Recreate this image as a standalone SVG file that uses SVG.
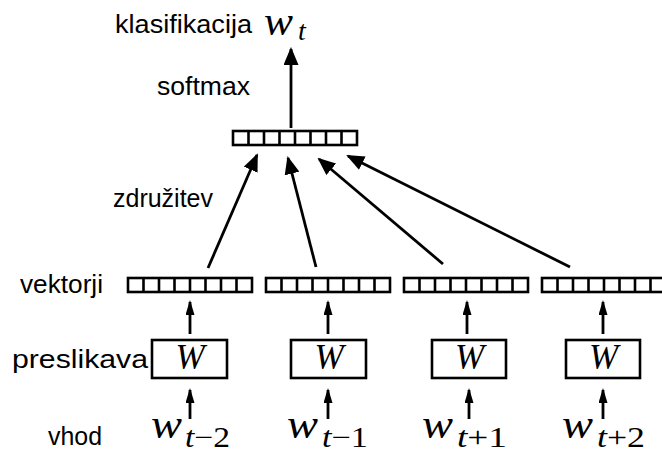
<svg xmlns="http://www.w3.org/2000/svg" xmlns:xlink="http://www.w3.org/1999/xlink" width="662" height="453" viewBox="0 0 662 453">
<style>
.lbl{font-family:"Liberation Sans",Arial,sans-serif;font-size:25px;fill:#000}
.m{font-family:"Liberation Serif","Times New Roman",serif;font-style:italic;fill:#000}
.r{font-style:normal}
.box{fill:#fff;stroke:#000;stroke-width:2.6}
.cell{fill:none;stroke:#000;stroke-width:2.6}
.ln{stroke:#000;stroke-width:2.8;fill:none}
</style>
<defs>
<marker id="big" markerUnits="userSpaceOnUse" markerWidth="18" markerHeight="15" refX="16" refY="7.5" orient="auto">
<path d="M0,0 L18,7.5 L0,15 z" fill="#000"/>
</marker>
<marker id="small" markerUnits="userSpaceOnUse" markerWidth="15" markerHeight="9" refX="13" refY="4.5" orient="auto">
<path d="M0,0 L15,4.5 L0,9 z" fill="#000"/>
</marker>
<g id="vec">
<rect x="0" y="0" width="124" height="14" class="cell"/>
<path class="cell" d="M15.5,0v14M31,0v14M46.5,0v14M62,0v14M77.5,0v14M93,0v14M108.5,0v14"/>
</g>
</defs>

<g id="labels">
<text class="lbl" x="115" y="33" textLength="137" lengthAdjust="spacingAndGlyphs">klasifikacija</text>
<text class="lbl" x="157" y="95" textLength="93" lengthAdjust="spacingAndGlyphs">softmax</text>
<text class="lbl" x="113" y="207" textLength="100" lengthAdjust="spacingAndGlyphs">združitev</text>
<text class="lbl" x="20" y="293" textLength="83" lengthAdjust="spacingAndGlyphs">vektorji</text>
<text class="lbl" x="12" y="368" textLength="136" lengthAdjust="spacingAndGlyphs">preslikava</text>
<text class="lbl" x="48" y="445" textLength="54" lengthAdjust="spacingAndGlyphs">vhod</text>
</g>

<g id="output">
<text class="m" x="264" y="35" font-size="40" textLength="29" lengthAdjust="spacingAndGlyphs">w</text>
<text class="m" x="298" y="40" font-size="28">t</text>
</g>

<g id="concat"><use xlink:href="#vec" href="#vec" x="233" y="131"/></g>

<g id="vec1"><use xlink:href="#vec" href="#vec" x="128" y="278"/></g>
<g id="vec2"><use xlink:href="#vec" href="#vec" x="266" y="278"/></g>
<g id="vec3"><use xlink:href="#vec" href="#vec" x="404" y="278"/></g>
<g id="vec4"><use xlink:href="#vec" href="#vec" x="542" y="278"/></g>

<g id="W1"><rect class="box" x="152" y="340" width="75" height="38"/><text class="m" x="190" y="369" font-size="35" text-anchor="middle">W</text></g>
<g id="W2"><rect class="box" x="291" y="340" width="75" height="38"/><text class="m" x="329" y="369" font-size="35" text-anchor="middle">W</text></g>
<g id="W3"><rect class="box" x="432" y="340" width="74" height="38"/><text class="m" x="469.5" y="369" font-size="35" text-anchor="middle">W</text></g>
<g id="W4"><rect class="box" x="566" y="340" width="74" height="38"/><text class="m" x="603.5" y="369" font-size="35" text-anchor="middle">W</text></g>

<g id="inputs">
<text class="m" x="151" y="438" font-size="42" textLength="31" lengthAdjust="spacingAndGlyphs">w</text><text class="m" x="185" y="447" font-size="29" textLength="45" lengthAdjust="spacingAndGlyphs">t<tspan class="r">−2</tspan></text>
<text class="m" x="287" y="438" font-size="42" textLength="31" lengthAdjust="spacingAndGlyphs">w</text><text class="m" x="322" y="447" font-size="29" textLength="46" lengthAdjust="spacingAndGlyphs">t<tspan class="r">−1</tspan></text>
<text class="m" x="422" y="438" font-size="42" textLength="31" lengthAdjust="spacingAndGlyphs">w</text><text class="m" x="457" y="447" font-size="29" textLength="50" lengthAdjust="spacingAndGlyphs">t<tspan class="r">+1</tspan></text>
<text class="m" x="562" y="438" font-size="42" textLength="31" lengthAdjust="spacingAndGlyphs">w</text><text class="m" x="597" y="447" font-size="29" textLength="48" lengthAdjust="spacingAndGlyphs">t<tspan class="r">+2</tspan></text>
</g>

<g id="connectors">
<line class="ln" x1="291" y1="128" x2="291" y2="49" marker-end="url(#big)"/>
<line class="ln" x1="208" y1="268" x2="257" y2="155" marker-end="url(#big)"/>
<line class="ln" x1="316" y1="267" x2="288" y2="158" marker-end="url(#big)"/>
<line class="ln" x1="443" y1="264" x2="319" y2="159" marker-end="url(#big)"/>
<line class="ln" x1="570" y1="267" x2="348" y2="156" marker-end="url(#big)"/>
<line class="ln" x1="190" y1="334" x2="190" y2="302" marker-end="url(#small)"/>
<line class="ln" x1="328" y1="334" x2="328" y2="302" marker-end="url(#small)"/>
<line class="ln" x1="467" y1="334" x2="467" y2="302" marker-end="url(#small)"/>
<line class="ln" x1="603" y1="334" x2="603" y2="302" marker-end="url(#small)"/>
<line class="ln" x1="190" y1="419" x2="190" y2="390" marker-end="url(#small)"/>
<line class="ln" x1="328" y1="419" x2="328" y2="390" marker-end="url(#small)"/>
<line class="ln" x1="469" y1="419" x2="469" y2="390" marker-end="url(#small)"/>
<line class="ln" x1="603" y1="419" x2="603" y2="390" marker-end="url(#small)"/>
</g>
</svg>
